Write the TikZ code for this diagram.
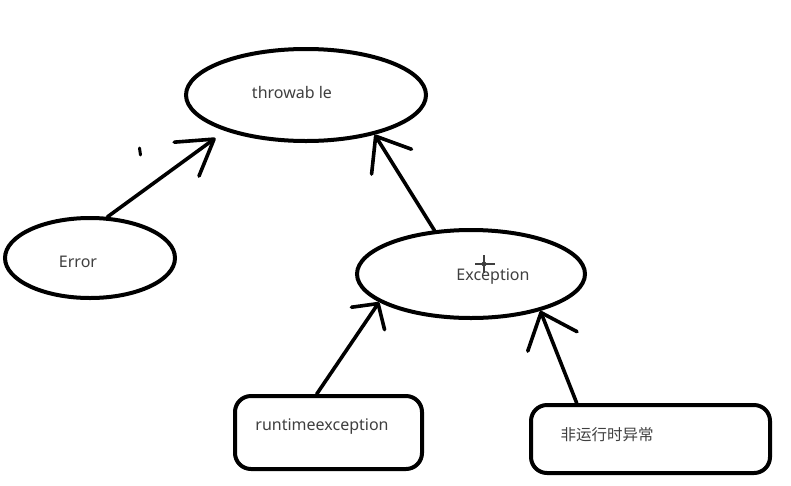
\documentclass[tikz,border=0pt]{standalone}
\usepackage{fontspec}
\setmainfont{Noto Sans}
\newfontfamily\cjkfont{Noto Sans CJK SC}
\usetikzlibrary{shapes.geometric, arrows.meta, positioning}
\definecolor{InkBlack}{HTML}{000000}
\definecolor{TextGray}{HTML}{3F3F3F}
\tikzset{
    oval/.style={ellipse, draw=InkBlack, line width=4pt, fill=white, inner sep=0pt},
    roundbox/.style={rectangle, draw=InkBlack, line width=4pt, fill=white, rounded corners=16pt, inner sep=0pt},
    lbl/.style={text=TextGray, inner sep=0pt, font=\fontsize{16}{19}\selectfont},
    lblcjk/.style={text=TextGray, inner sep=0pt, font=\cjkfont\fontsize{15.5}{18}\selectfont},
    arr/.style 2 args={draw=InkBlack, line width=3.6pt, line cap=round, -{Straight Barb[length=#1pt, width=#2pt, round]}}
}

\begin{document}
\begin{tikzpicture}[x=1pt, y=-1pt]
    \fill[white] (0,0) rectangle (791,485);
    \useasboundingbox (0,0) rectangle (791,485);

    % Ovals
    \node[oval, minimum width=240pt, minimum height=92pt, label={[lbl, xshift=-14pt, yshift=3pt]center:throwab le}] (throwable) at (306,95) {};
    \node[oval, minimum width=170pt, minimum height=80pt, label={[lbl, xshift=-12pt, yshift=-4pt]center:Error}] (error) at (90,258) {};
    \node[oval, minimum width=228pt, minimum height=88pt, label={[lbl, xshift=22pt, yshift=-3pt]center:Exception}] (exception) at (471,274) {};

    % Boxes
    \node[roundbox, minimum width=187pt, minimum height=73pt, label={[lbl, xshift=-6.5pt, yshift=5.5pt]center:runtimeexception}] (runtime) at (328.5,432.5) {};
    \node[roundbox, minimum width=239pt, minimum height=68pt, label={[lblcjk, xshift=-43.5pt, yshift=4pt]center:非运行时异常}] (checked) at (650.5,439) {};

    % Arrows
    \draw[arr={34}{42}, shorten >=12pt] (error.67) -- (throwable.204);
    \draw[arr={30}{47}] (exception.130) -- (throwable.330);
    \draw[arr={18}{40}] (runtime.107) -- (exception.197);
    \draw[arr={31}{53}] (checked.154) -- (exception.332);

    % Stray mark and cursor
    \draw[InkBlack, line width=3pt, line cap=round] (139.5,148) -- (140.5,155);
    \draw[TextGray, line width=1.2pt] (475,264) -- (495,264) (484,255) -- (484,273);
    \draw[TextGray, line width=0.8pt] (484,264) circle (2pt);
\end{tikzpicture}
\end{document}
